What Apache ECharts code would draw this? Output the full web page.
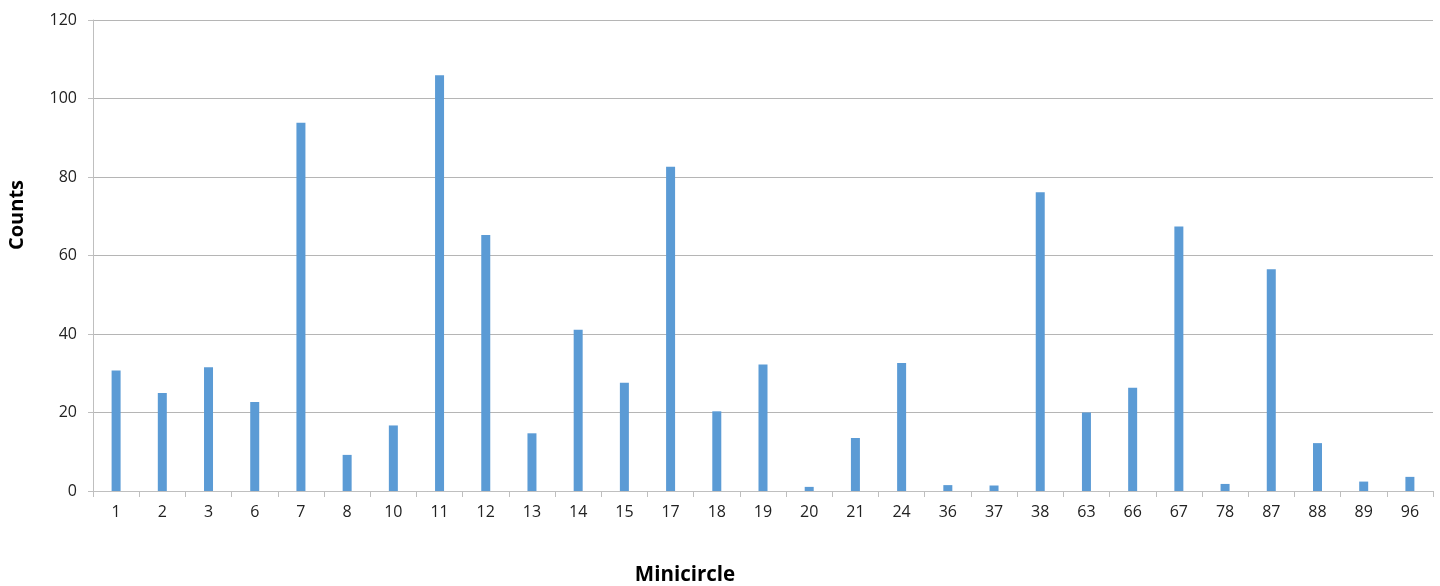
<!DOCTYPE html>
<html><head><meta charset="utf-8">
<script src="https://cdn.jsdelivr.net/npm/echarts@6/dist/echarts.min.js"></script>
<style>html,body{margin:0;padding:0;background:#fff}#c{width:1440px;height:586px}</style>
</head><body><div id="c"></div>
<script>
var categories = ['1','2','3','6','7','8','10','11','12','13','14','15','17','18','19','20','21','24','36','37','38','63','66','67','78','87','88','89','96'];
var counts = [30.7,25.0,31.5,22.7,93.8,9.2,16.7,105.9,65.2,14.7,41.1,27.6,82.6,20.3,32.2,1.05,13.5,32.6,1.5,1.4,76.1,20.0,26.3,67.4,1.8,56.5,12.2,2.4,3.6];
var yTicks = {min:0, max:120, interval:20};
var xTitle = 'Minicircle';
var yTitle = 'Counts';

var chart = echarts.init(document.getElementById('c'), null, {renderer:'canvas'});
var font = 'Open Sans';
chart.setOption({
  animation:false,
  grid:{left:93, right:7, top:20, bottom:95, containLabel:false},
  xAxis:{
    type:'category', data:categories, boundaryGap:true,
    axisLine:{lineStyle:{color:'#bfbfbf', width:1}},
    axisTick:{show:true, alignWithLabel:false, length:6, lineStyle:{color:'#bfbfbf'}},
    axisLabel:{color:'#222', fontFamily:font, fontSize:16, margin:13, interval:0}
  },
  yAxis:{
    type:'value', min:yTicks.min, max:yTicks.max, interval:yTicks.interval,
    axisLine:{show:true, lineStyle:{color:'#bfbfbf', width:1}},
    axisTick:{show:true, length:5, lineStyle:{color:'#bfbfbf'}},
    axisLabel:{color:'#222', fontFamily:font, fontSize:16, margin:16},
    splitLine:{lineStyle:{color:'#b5b5b5', width:1}}
  },
  series:[{
    type:'bar', data:counts, barWidth:9,
    itemStyle:{color:'#5B9BD5'}
  }],
  graphic:[
    {type:'text', x:685, y:575, style:{text:xTitle, font:'bold 20.5px "Open Sans"', fill:'#000', align:'center', verticalAlign:'middle'}},
    {type:'text', x:17, y:215, rotation:Math.PI/2, style:{text:yTitle, font:'bold 20px "Open Sans"', fill:'#000', align:'center', verticalAlign:'middle'}}
  ]
});
</script></body></html>
